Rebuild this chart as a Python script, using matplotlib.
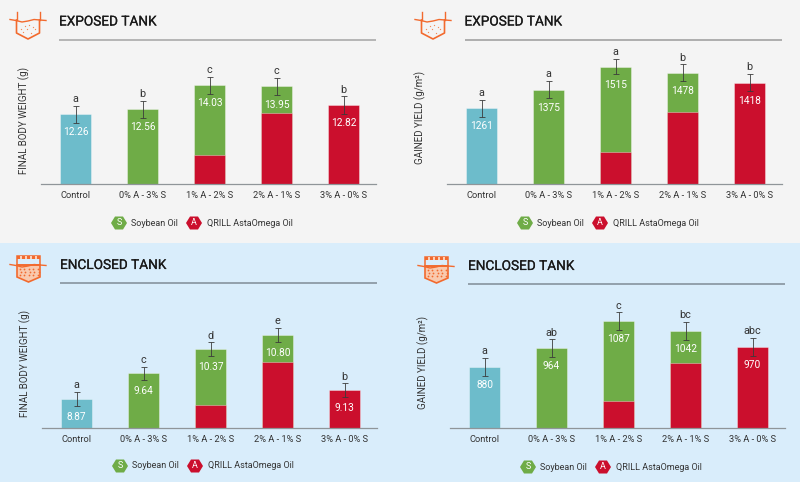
import numpy as np
import matplotlib
matplotlib.use('Agg')
import matplotlib.pyplot as plt
import matplotlib.patheffects as pe
from matplotlib.patches import Polygon, Rectangle

plt.rcParams['font.family'] = 'Roboto'

W, H = 800, 482
TEAL = '#6dbccb'
GREEN = '#6fac47'
RED = '#cb0f2d'
ORANGE = '#f26a2e'
TEXT = '#333333'

categories = ['Control', '0% A - 3% S', '1% A - 2% S', '2% A - 1% S', '3% A - 0% S']

# totals, red part of the mixed bars, error and letters for each chart
fbw_exposed = [12.26, 12.56, 14.03, 13.95, 12.82]
fbw_exposed_red = [0, 0, 9.77, 12.33, 12.82]
fbw_exposed_err = [0.51, 0.51, 0.52, 0.52, 0.52]
fbw_exposed_sig = ['a', 'b', 'c', 'c', 'b']
fbw_exposed_txt = ['12.26', '12.56', '14.03', '13.95', '12.82']

gy_exposed = [1261, 1375, 1515, 1478, 1418]
gy_exposed_red = [0, 0, 995, 1238, 1418]
gy_exposed_err = [51, 52, 47, 51, 53]
gy_exposed_sig = ['a', 'a', 'a', 'b', 'b']
gy_exposed_txt = ['1261', '1375', '1515', '1478', '1418']

fbw_enclosed = [8.87, 9.64, 10.37, 10.80, 9.13]
fbw_enclosed_red = [0, 0, 8.69, 9.97, 9.13]
fbw_enclosed_err = [0.21, 0.205, 0.205, 0.21, 0.205]
fbw_enclosed_sig = ['a', 'c', 'd', 'e', 'b']
fbw_enclosed_txt = ['8.87', '9.64', '10.37', '10.80', '9.13']

gy_enclosed = [880, 964, 1087, 1042, 970]
gy_enclosed_red = [0, 0, 723, 896, 970]
gy_enclosed_err = [41, 41, 40, 41, 40]
gy_enclosed_sig = ['a', 'ab', 'c', 'bc', 'abc']
gy_enclosed_txt = ['880', '964', '1087', '1042', '970']

fig = plt.figure(figsize=(8, 4.82), dpi=100)

# overlay in pixel coords for backgrounds, icons, headers, legends
bg = fig.add_axes([0, 0, 1, 1])
bg.set_xlim(0, W)
bg.set_ylim(H, 0)
bg.axis('off')
bg.add_patch(Rectangle((0, 0), W, 243, color='#f4f4f4', lw=0))
bg.add_patch(Rectangle((0, 243), W, H - 243, color='#d9edfb', lw=0))


def hexagon(cx, cy, color, letter):
    r = 8
    pts = [(cx - r, cy), (cx - r / 2, cy - 6.5), (cx + r / 2, cy - 6.5),
           (cx + r, cy), (cx + r / 2, cy + 6.5), (cx - r / 2, cy + 6.5)]
    bg.add_patch(Polygon(pts, color=color, lw=0))
    bg.text(cx, cy - 0.3, letter, color='white', fontsize=6.5, ha='center', va='center')


def draw_legend(x, y):
    hexagon(x, y, GREEN, 'S')
    bg.text(x + 12, y, 'Soybean Oil', color=TEXT, fontsize=6.5, va='center')
    hexagon(x + 75, y, RED, 'A')
    bg.text(x + 88, y, 'QRILL AstaOmega Oil', color=TEXT, fontsize=6.5, va='center')


def wave(ox, oy):
    xs = [10, 16, 22, 28, 34, 40, 46]
    ys = [19.5, 20.5, 22, 21, 19.5, 20, 20.5]
    bg.plot([ox + v for v in xs], [oy + v for v in ys], color=ORANGE, lw=1.0)


def exposed_icon(ox, oy):
    bg.plot([ox + 16.5, ox + 16.5, ox + 28, ox + 39.5, ox + 39.5],
            [oy + 20, oy + 33, oy + 39, oy + 33, oy + 20], color=ORANGE, lw=1.2)
    bg.plot([ox + 16.5, ox + 16.5], [oy + 12, oy + 20], color=ORANGE, lw=1.0)
    bg.plot([ox + 39.5, ox + 39.5], [oy + 12, oy + 20], color=ORANGE, lw=1.0)
    wave(ox, oy)
    dx = [21, 25, 29, 33, 23, 27, 31, 35]
    dy = [29, 26, 25, 27, 32, 29, 33, 29]
    bg.scatter([ox + v for v in dx], [oy + v for v in dy], s=0.9, color='#f58a58', lw=0)


def enclosed_icon(ox, oy):
    bg.add_patch(Polygon([(ox + 17, oy + 20), (ox + 40, oy + 20), (ox + 40, oy + 32),
                          (ox + 28.5, oy + 37), (ox + 17, oy + 32)],
                         facecolor='#f9c9ae', edgecolor=ORANGE, lw=1.2))
    bg.add_patch(Rectangle((ox + 17, oy + 11), 23, 9, facecolor='none', edgecolor=ORANGE, lw=1.1))
    bg.add_patch(Rectangle((ox + 17, oy + 11), 23, 3, color=ORANGE, lw=0))
    for i in range(4):
        bg.add_patch(Rectangle((ox + 20 + i * 5, oy + 11), 2, 3, color='#fbd0b8', lw=0))
    wave(ox, oy)
    for j, yy in enumerate([24, 27, 30]):
        for i in range(5):
            bg.scatter(ox + 20 + i * 4.4 + j % 2, oy + yy, s=1.6, color=ORANGE, lw=0)


def header(title, x, y, rule_y, rule_end, rule_col):
    t = bg.text(x, y, title, color='#1a1a1a', fontsize=9.8, va='center')
    t.set_path_effects([pe.withStroke(linewidth=0.15, foreground='#1a1a1a')])
    bg.plot([x, rule_end], [rule_y, rule_y], color=rule_col, lw=1.3, solid_capstyle='butt')


def panel(left, base_px, values, reds, errs, sig, txt, y0, per_px, ylabel, lab_x, lab_y):
    ax = fig.add_axes([left / W, (H - base_px) / H, 335 / W, 150 / H])
    ax.patch.set_alpha(0)
    x = np.arange(len(values))
    bar_w = 0.47
    colors = [TEAL, GREEN, GREEN, GREEN, RED]
    ax.bar(x, np.array(values) - y0, bar_w, bottom=y0, color=colors,
           edgecolor='#ffffff80', linewidth=0.5)
    for i in range(len(values)):
        if 0 < reds[i] < values[i]:
            ax.bar(x[i], reds[i] - y0, bar_w, bottom=y0, color=RED,
                   edgecolor='#ffffff80', linewidth=0.5)
    ax.errorbar(x, values, yerr=errs, fmt='none', ecolor='#3a3a3a', elinewidth=0.7,
                capsize=1.9, capthick=0.7, alpha=0.85)
    for i in range(len(values)):
        ax.annotate(txt[i], (x[i], values[i]), xytext=(0, -13), textcoords='offset points',
                    color='white', fontsize=7.3, ha='center', va='center')
        ax.annotate(sig[i], (x[i], values[i] + errs[i]), xytext=(0, 4.8), textcoords='offset points',
                    color=TEXT, fontsize=7.8, ha='center', va='center')
    ax.set_xlim(-0.515, 4.485)
    ax.set_ylim(y0, y0 + 150 * per_px)
    ax.set_yticks([])
    ax.set_xticks(x)
    ax.set_xticklabels(categories, fontsize=6.7, color=TEXT)
    ax.tick_params(axis='x', length=0, pad=5.2)
    for s in ['left', 'right', 'top']:
        ax.spines[s].set_visible(False)
    ax.spines['bottom'].set_color('#8f9599')
    ax.spines['bottom'].set_linewidth(0.9)
    bg.text(lab_x, lab_y, ylabel, color=TEXT, fontsize=7.0, rotation=90, ha='center', va='center')


exposed_icon(0, 0)
exposed_icon(5 + 400, 0)
enclosed_icon(0, 245)
enclosed_icon(408, 246)

header('EXPOSED TANK', 59, 21.5, 40, 376, '#b0b0b0')
header('EXPOSED TANK', 464.5, 21.5, 40, 782, '#a8a8a8')
header('ENCLOSED TANK', 60, 265, 283, 377, '#8d9ba5')
header('ENCLOSED TANK', 468, 266, 284, 785, '#8d9ba5')

draw_legend(119, 223)
draw_legend(525, 223)
draw_legend(120, 466)
draw_legend(528, 467)

panel(41, 184, fbw_exposed, fbw_exposed_red, fbw_exposed_err, fbw_exposed_sig, fbw_exposed_txt,
      8, 0.061, 'FINAL BODY WEIGHT (g)', 24, 120)
panel(447, 184, gy_exposed, gy_exposed_red, gy_exposed_err, gy_exposed_sig, gy_exposed_txt,
      800, 6.09, 'GAINED YIELD (g/m²)', 420, 117.5)
panel(42, 427.7, fbw_enclosed, fbw_enclosed_red, fbw_enclosed_err, fbw_enclosed_sig, fbw_enclosed_txt,
      8, 0.0302, 'FINAL BODY WEIGHT (g)', 25, 363)
panel(450, 428, gy_enclosed, gy_enclosed_red, gy_enclosed_err, gy_enclosed_sig, gy_enclosed_txt,
      600, 4.56, 'GAINED YIELD (g/m²)', 423, 362.5)

fig.savefig('out.png', dpi=100)
